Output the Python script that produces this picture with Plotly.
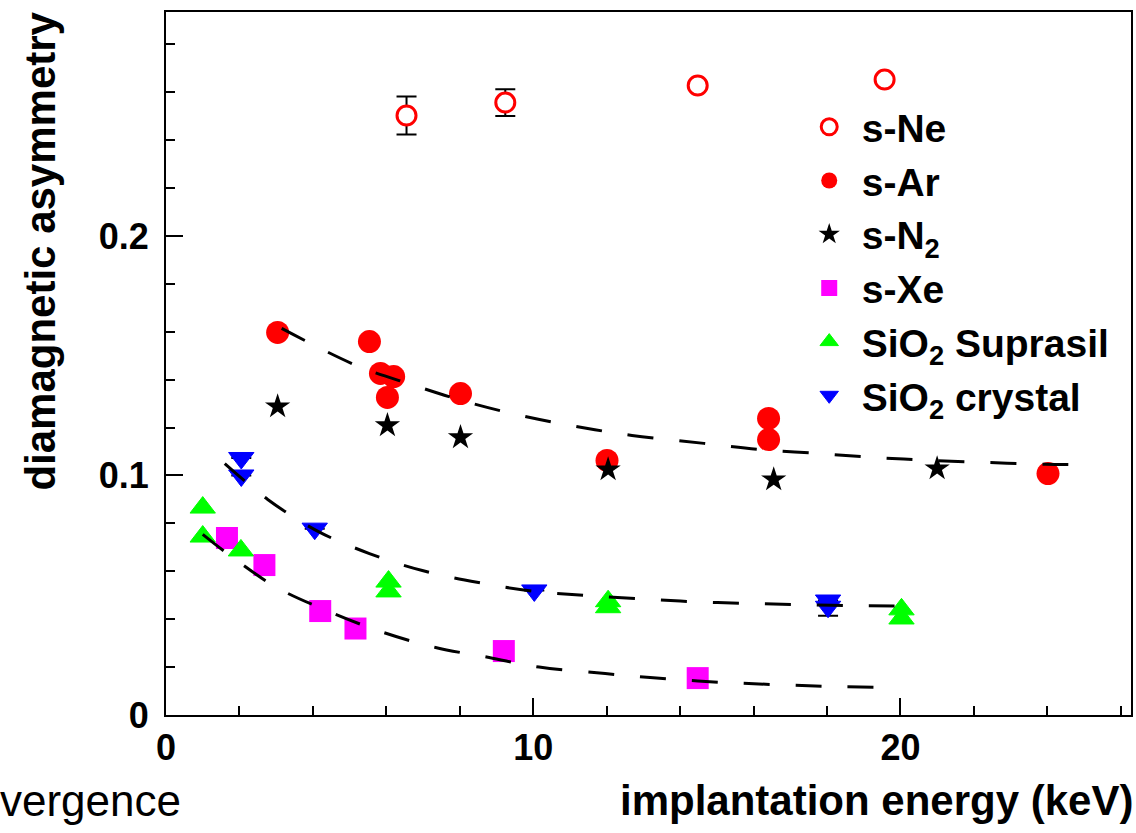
import plotly.graph_objects as go

# ---- data ----
ne_x = [6.55, 9.24, 14.48, 19.57]
ne_y = [0.2503, 0.2557, 0.2628, 0.2653]
ne_err = [0.0079, 0.0056, 0.0, 0.0]

ar_x = [3.04, 5.54, 5.84, 6.20, 6.03, 8.02, 12.01, 16.41, 16.41, 24.02]
ar_y = [0.1597, 0.1559, 0.1426, 0.1413, 0.1326, 0.1342, 0.1063, 0.1238, 0.1150, 0.1008]

n2_x = [3.04, 6.03, 8.02, 12.04, 16.55, 21.0]
n2_y = [0.1288, 0.1209, 0.1159, 0.1025, 0.0983, 0.1029]

xe_x = [1.66, 2.68, 4.20, 5.16, 9.20, 14.48]
xe_y = [0.0739, 0.0626, 0.0434, 0.0361, 0.0267, 0.0154]

sup_x = [1.0, 1.0, 2.04, 6.06, 6.06, 12.04, 12.04, 20.03, 20.03]
sup_y = [0.0866, 0.0745, 0.0687, 0.0557, 0.0516, 0.0475, 0.0450, 0.0441, 0.0403]

cry_x = [2.05, 2.05, 4.05, 10.03, 18.03, 18.03]
cry_y = [0.1073, 0.1000, 0.0778, 0.0520, 0.0478, 0.0452]
cry_err = [0, 0, 0, 0, 0, 0.0038]

# fit curves
fit_ar_x = [3.15, 5.22, 6.68, 8.15, 9.65, 11.17, 12.69, 14.65, 16.14, 17.74, 19.32, 20.82, 22.39, 23.94, 24.92]
fit_ar_y = [0.1614, 0.1457, 0.1380, 0.1309, 0.1251, 0.1205, 0.1167, 0.1134, 0.1109, 0.1092, 0.1075, 0.1063, 0.1054, 0.1047, 0.1045]

fit_cry_x = [1.60, 2.77, 4.10, 5.54, 6.98, 8.51, 10.03, 11.47, 12.99, 14.54, 16.09, 17.61, 19.13, 19.95]
fit_cry_y = [0.1049, 0.0900, 0.0770, 0.0674, 0.0603, 0.0553, 0.0516, 0.0499, 0.0484, 0.0472, 0.0465, 0.0460, 0.0456, 0.0455]

fit_xe_x = [1.0, 1.74, 3.02, 4.38, 5.84, 7.34, 8.80, 10.16, 11.96, 13.53, 15.05, 16.58, 18.15, 19.92]
fit_xe_y = [0.0754, 0.0666, 0.0532, 0.0436, 0.0349, 0.0282, 0.0240, 0.0200, 0.0173, 0.0152, 0.0137, 0.0127, 0.0119, 0.0115]

x_range = [0, 26.28]
y_range = [0, 0.2935]

FONT = "Liberation Sans"

fig = go.Figure()

fig.add_trace(go.Scatter(
    x=ne_x, y=ne_y, mode="markers", name="s-Ne", legendgroup="a",
    marker=dict(symbol="circle", size=19, color="white", line=dict(color="#ff0000", width=3)),
    error_y=dict(type="data", array=ne_err, color="black", thickness=2, width=10),
))
fig.add_trace(go.Scatter(
    x=ar_x, y=ar_y, mode="markers", name="s-Ar", legendgroup="b",
    marker=dict(symbol="circle", size=23, color="#ff0000"),
))
fig.add_trace(go.Scatter(
    x=n2_x, y=n2_y, mode="markers", name="s-N<sub>2</sub>", legendgroup="c",
    marker=dict(symbol="star", size=19, color="black"),
))
fig.add_trace(go.Scatter(
    x=xe_x, y=xe_y, mode="markers", name="s-Xe", legendgroup="d",
    marker=dict(symbol="square", size=22, color="#ff00ff"),
))
fig.add_trace(go.Scatter(
    x=sup_x, y=sup_y, mode="markers", name="SiO<sub>2</sub> Suprasil", legendgroup="e",
    marker=dict(symbol="triangle-up", size=22, color="#00ff00", line=dict(color="#00ff00", width=1)),
))
fig.add_trace(go.Scatter(
    x=cry_x, y=cry_y, mode="markers", name="SiO<sub>2</sub> crystal", legendgroup="f",
    marker=dict(symbol="triangle-down", size=22, color="#0000ff", line=dict(color="#0000ff", width=1)),
    error_y=dict(type="data", array=cry_err, color="black", thickness=2, width=10),
))

for fx, fy in [(fit_ar_x, fit_ar_y), (fit_cry_x, fit_cry_y), (fit_xe_x, fit_xe_y)]:
    fig.add_trace(go.Scatter(
        x=fx, y=fy, mode="lines", showlegend=False, hoverinfo="skip",
        line=dict(color="black", width=3, dash="26px,26px", shape="spline"),
    ))

axis_common = dict(
    showgrid=False, zeroline=False, showline=True, mirror=True,
    linecolor="black", linewidth=2, ticks="inside", tickcolor="black",
    tickwidth=2, tickfont=dict(family=FONT, size=36, color="black", weight="bold"),
)

fig.update_xaxes(
    range=x_range, tickmode="array", tickvals=[0, 10, 20], ticktext=["0", "10", "20"],
    ticklen=17,
    minor=dict(ticks="inside", ticklen=9, dtick=2, tick0=0, tickcolor="black", tickwidth=2),
    **axis_common,
)
fig.update_yaxes(
    range=y_range, tickmode="array", tickvals=[0, 0.1, 0.2], ticktext=["0", "0.1", "0.2"],
    ticklen=17, ticklabelstandoff=8,
    minor=dict(ticks="inside", ticklen=9, dtick=0.02, tick0=0, tickcolor="black", tickwidth=2),
    **axis_common,
)

fig.update_layout(
    width=1136, height=833,
    margin=dict(l=166, r=3, t=12, b=118),
    paper_bgcolor="white", plot_bgcolor="white",
    font=dict(family=FONT, color="black"),
    showlegend=True,
    legend=dict(
        x=0.6536, y=0.882, xanchor="left", yanchor="top",
        font=dict(family=FONT, size=39, color="black", weight="bold"),
        bgcolor="rgba(0,0,0,0)", borderwidth=0, tracegroupgap=0,
        itemwidth=55,
    ),
    annotations=[
        dict(text="implantation energy (keV)", xref="paper", yref="paper",
             x=1.0, y=-0.122, xanchor="right", yanchor="middle", showarrow=False,
             xshift=4,
             font=dict(family=FONT, size=42, color="black", weight="bold")),
        dict(text="diamagnetic asymmetry", xref="paper", yref="paper",
             x=-0.131, y=0.66, xanchor="center", yanchor="middle", showarrow=False,
             textangle=-90,
             font=dict(family=FONT, size=42, color="black", weight="bold")),
        dict(text="vergence", xref="paper", yref="paper",
             x=-0.172, y=-0.122, xanchor="left", yanchor="middle", showarrow=False,
             xshift=-2,
             font=dict(family=FONT, size=44, color="black")),
    ],
)

fig.write_html("out.html")
